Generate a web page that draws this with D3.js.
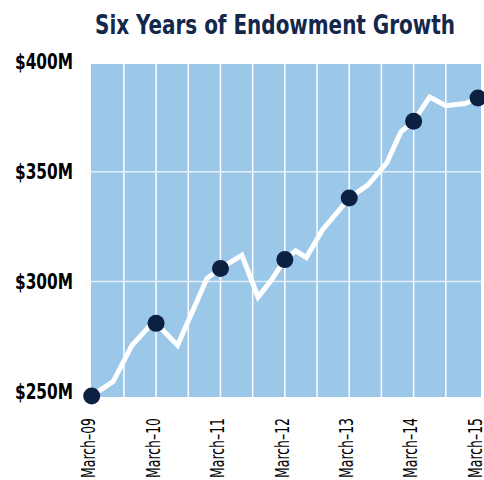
<!DOCTYPE html>
<meta charset="utf-8">
<head>
    <style>
        body { margin: 0; background: #fff; }
        text { font-family: "DejaVu Sans Condensed", "Liberation Sans", sans-serif; }
        .title { font-weight: bold; fill: #13284b; font-size: 27px; }
        .ylab { font-weight: bold; fill: #000; font-size: 21px; }
        .xlab { fill: #000; font-size: 19px; }
    </style>
    <script src="https://d3js.org/d3.v7.min.js"></script>
</head>
<body></body>
<script>

    var width = 484,
        height = 480;

    // months after March 2009 and endowment value ($M)
    var months = [0, 4, 7.5, 10.5, 12, 16, 21.5, 24, 28, 31, 33.3, 36, 38, 40, 43, 48, 51.5, 55, 57.6, 60, 63, 66, 69.6, 72];
    var values = [248, 254.5, 271, 279, 281, 271, 301.5, 306, 312, 293, 300, 310, 314, 311, 323.5, 338, 344, 354, 368, 373, 384, 380, 381, 383.5];

    var yearMonths = [0, 12, 24, 36, 48, 60, 72];
    var yearLabels = ["March–09", "March–10", "March–11", "March–12", "March–13", "March–14", "March–15"];
    var yTicks = [250, 300, 350, 400];
    var yTickLabels = ["$250M", "$300M", "$350M", "$400M"];

    var x = d3.scaleLinear().domain([0, 72]).range([91.7, 478]),
        y = d3.scaleLinear().domain([247.5, 399]).range([397, 64]);

    var svg = d3.select("body").append("svg")
        .attr("width", width)
        .attr("height", height);

    //the fonts here are wider than the original's, so squeeze text to its measured length
    svg.append("text")
        .attr("class", "title")
        .attr("x", 275)
        .attr("y", 34)
        .attr("text-anchor", "middle")
        .attr("textLength", 360)
        .attr("lengthAdjust", "spacingAndGlyphs")
        .text("Six Years of Endowment Growth");

    //plot background
    svg.append("rect")
        .attr("x", 91)
        .attr("y", y(399))
        .attr("width", 481 - 91)
        .attr("height", y(247.5) - y(399))
        .attr("fill", "#9bc7e8");

    //half-year vertical grid
    svg.selectAll(".vgrid")
        .data(d3.range(6, 72, 6))
        .enter().append("line")
        .attr("x1", function(d) { return x(d); })
        .attr("x2", function(d) { return x(d); })
        .attr("y1", y(399))
        .attr("y2", y(247.5))
        .attr("stroke", "#fff")
        .attr("stroke-width", 1.5);

    svg.selectAll(".hgrid")
        .data([300, 350])
        .enter().append("line")
        .attr("x1", 91)
        .attr("x2", 481)
        .attr("y1", function(d) { return y(d); })
        .attr("y2", function(d) { return y(d); })
        .attr("stroke", "#e4eff8")
        .attr("stroke-width", 1.5);

    var line = d3.line()
        .x(function(d, i) { return x(months[i]); })
        .y(function(d) { return y(d); });

    svg.append("path")
        .attr("d", line(values))
        .attr("fill", "none")
        .attr("stroke", "#fff")
        .attr("stroke-width", 5)
        .attr("stroke-linejoin", "miter");

    svg.selectAll(".dot")
        .data(yearMonths)
        .enter().append("circle")
        .attr("cx", function(d) { return x(d); })
        .attr("cy", function(d) { return y(values[months.indexOf(d)]); })
        .attr("r", 8.5)
        .attr("fill", "#0c2142");

    svg.selectAll(".ylab")
        .data(yTicks)
        .enter().append("text")
        .attr("class", "ylab")
        .attr("x", 73)
        .attr("y", function(d) { return y(d); })
        .attr("dy", "0.36em")
        .attr("text-anchor", "end")
        .attr("textLength", 58)
        .attr("lengthAdjust", "spacingAndGlyphs")
        .text(function(d, i) { return yTickLabels[i]; });

    svg.selectAll(".xlab")
        .data(yearMonths)
        .enter().append("text")
        .attr("class", "xlab")
        .attr("transform", function(d) { return "translate(" + (x(d) - 3) + ",418) rotate(-90)"; })
        .attr("dy", "0.35em")
        .attr("text-anchor", "end")
        .attr("textLength", 60)
        .attr("lengthAdjust", "spacingAndGlyphs")
        .text(function(d, i) { return yearLabels[i]; });

</script>
